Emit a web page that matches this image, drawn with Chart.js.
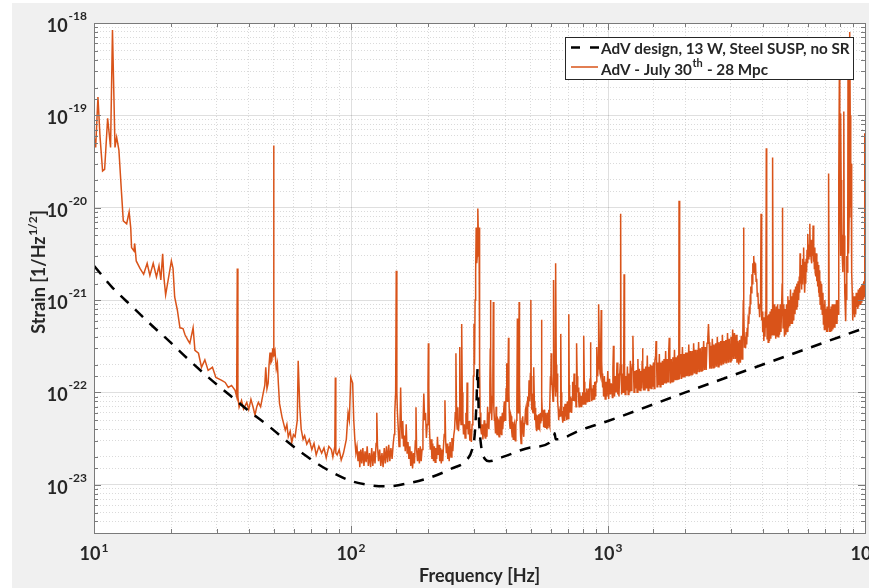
<!DOCTYPE html>
<html>
<head>
<meta charset="utf-8">
<script src="https://cdn.jsdelivr.net/npm/chart.js@4.4.1/dist/chart.umd.min.js"></script>
<style>
html,body{margin:0;padding:0;background:#ffffff;}
#wrap{width:869px;height:588px;position:relative;}
canvas{display:block;}
</style>
</head>
<body>
<div id="wrap"><canvas id="c" width="869" height="588"></canvas></div>
<script>
// ---------- data ----------
const seriesNames = ['AdV design, 13 W, Steel SUSP, no SR', 'AdV - July 30th - 28 Mpc'];
const legendSecondParts = ['AdV - July 30', 'th', ' - 28 Mpc'];
const xTitle = 'Frequency [Hz]';
const yTitleParts = ['Strain [1/Hz', '1/2', ']'];

const xTickValues = [10, 100, 1000, 10000];
const xTickExponents = ['1', '2', '3', '4'];
const yTickValues = [1e-18, 1e-19, 1e-20, 1e-21, 1e-22, 1e-23];
const yTickExponents = ['-18', '-19', '-20', '-21', '-22', '-23'];

// design sensitivity (black dashed): [frequency Hz, strain]
const designCurve = [[10,2.35e-21],[11.7,1.4e-21],[14,8.6e-22],[16.8,5.3e-22],[19.8,3.5e-22],[23.6,2.2e-22],
  [28.3,1.4e-22],[33.8,9.3e-23],[40,6.3e-23],[48.4,4.2e-23],[56.3,2.95e-23],[65.3,2.15e-23],[80,1.48e-23],
  [100,1.1e-23],[121,9.8e-24],[138,9.6e-24],[168,1.04e-23],[204,1.2e-23],[247,1.5e-23],[282,1.85e-23],
  [296,2.4e-23],[303,3.5e-23],[308,8e-23],[311,1.8e-22],[314,6e-23],[320,2.8e-23],[332,1.9e-23],[345,1.8e-23],
  [390,2.0e-23],[507,2.55e-23],[615,3.15e-23],[620,3.6e-23],[626,3.1e-23],[800,4.0e-23],[1000,4.9e-23],
  [2000,1.0e-22],[3000,1.5e-22],[5000,2.5e-22],[7000,3.5e-22],[10000,5e-22]];

// measured sensitivity, July 30th (orange): [frequency Hz, strain], by band
const measured10to100 = [[10.0,6.0e-20],[10.15,4.5e-20],[10.36,1.58e-19],[10.55,6.0e-20],[10.8,2.5e-20],[11.0,2.6e-20],
  [11.3,9.3e-20],[11.6,4.5e-20],[11.8,8.4e-19],[12.07,4.5e-20],[12.25,5.8e-20],[12.5,4.2e-20],[12.8,1.43e-20],
  [13.0,7.2e-21],[13.4,6.7e-21],[13.7,9.0e-21],[13.9,6.0e-21],[14.0,3.7e-21],[14.3,3.4e-21],[14.4,4.1e-21],
  [14.6,2.65e-21],[15.1,2.2e-21],[15.6,1.9e-21],[16.1,2.5e-21],[16.5,1.85e-21],[17.0,2.5e-21],[17.5,1.78e-21],
  [17.9,2.35e-21],[18.2,1.65e-21],[18.5,3.17e-21],[18.7,1.78e-21],[19.0,1.14e-21],[19.6,1.9e-21],[20.0,2.65e-21],
  [20.3,2.2e-21],[20.6,1.08e-21],[21.1,7.8e-22],[21.6,5.0e-22],[22.2,4.9e-22],[22.6,4.2e-22],[23.3,3.6e-22],
  [23.6,3.4e-22],[24.3,5.0e-22],[24.7,2.85e-22],[25.5,2.65e-22],[26.2,1.87e-22],[27.0,2.25e-22],[27.8,1.73e-22],
  [28.9,1.87e-22],[29.8,1.45e-22],[31.4,1.35e-22],[32.4,1.28e-22],[33.3,1.13e-22],[34.3,1.19e-22],[35.4,1.05e-22],
  [35.9,9.0e-23],[36.1,2.2e-21],[36.3,9.0e-23],[36.7,6.9e-23],[37.5,8.2e-23],[38.2,6.6e-23],[39.3,7.8e-23],
  [40.0,6.5e-23],[40.8,8.4e-23],[41.6,6.9e-23],[42.3,5.7e-23],[43.0,7.0e-23],[43.6,7.8e-23],[44.5,7.0e-23],
  [45.5,9.7e-23],[46.2,1.2e-22],[46.6,1.87e-22],[47.1,1.1e-22],[47.6,1.26e-22],[48.0,2.0e-22],[48.4,2.7e-22],
  [48.8,2.1e-22],[49.2,2.2e-22],[49.6,3.0e-22],[49.9,2.5e-22],[50.0,4.7e-20],[50.15,2.6e-22],[50.6,2.85e-22],
  [51.2,1.8e-22],[51.7,2.07e-22],[52.2,1.2e-22],[52.7,7.6e-23],[53.9,5.4e-23],[55.5,3.9e-23],[56.3,4.5e-23],
  [57.0,3.3e-23],[58.0,3.8e-23],[58.8,2.85e-23],[59.7,3.5e-23],[60.6,3.3e-23],[61.8,5.0e-23],[62.3,2.2e-22],
  [63.2,6.9e-23],[64.0,4.0e-23],[65.1,3.1e-23],[66.0,3.4e-23],[67.3,2.75e-23],[68.8,3.1e-23],[70.4,2.4e-23],
  [71.8,2.8e-23],[73.2,2.1e-23],[75.0,2.6e-23],[76.9,2.2e-23],[78.5,2.5e-23],[80.1,1.95e-23],[82.0,2.6e-23],
  [83.9,2.4e-23],[85.0,2.0e-23],[86.5,2.6e-23],[86.9,1.45e-22],[87.3,2.2e-23],[88.3,2.1e-23],[90.0,2.4e-23],
  [91.6,1.85e-23],[93.5,2.2e-23],[95.9,3.1e-23],[97.4,6.0e-23],[98.5,5.0e-23]];

const measured100to320 = [[99.8,1.45e-22],[101.5,1.26e-22],[102.5,5e-23],[103.5,3.1e-23],[104.5,2.2e-23],[105.5,2.6e-23],
  [106.5,1.8e-23],[107.5,2.3e-23],[108.2,1.55e-23],[109.2,2.4e-23],[110.2,1.7e-23],[111.2,2.5e-23],[112.3,1.6e-23],
  [113.4,2.3e-23],[114.5,1.75e-23],[115.6,2.6e-23],[116.8,1.6e-23],[118,2.2e-23],[119.2,1.55e-23],[120.4,2.5e-23],
  [121.6,1.6e-23],[122.8,2.3e-23],[124,1.7e-23],[125.2,2.8e-23],[126,6e-23],[126.8,2.6e-23],[128,1.8e-23],
  [129.3,2.4e-23],[130.6,1.6e-23],[132,2.2e-23],[133.3,1.55e-23],[134.7,2.5e-23],[136,1.7e-23],[137.4,2.6e-23],
  [138.8,1.75e-23],[140.2,2.7e-23],[141.6,1.8e-23],[143,2.5e-23],[144.5,1.9e-23],[146,2.8e-23],[147.2,3.5e-23],
  [148,6e-23],[149.2,1e-22],[150,2.07e-21],[150.8,1e-22],[151.6,6e-23],[152.7,4.1e-23],[153.8,2.6e-23],[155,4e-23],
  [156,1.13e-22],[157,4.5e-23],[158,3.2e-23],[159,4.9e-23],[160.2,2.6e-23],[161.4,3.4e-23],[162.6,2.3e-23],
  [164,4.5e-23],[165.3,2.2e-23],[166.6,2.9e-23],[168,1.9e-23],[169.4,2.6e-23],[170.8,1.6e-23],[172.2,2.3e-23],
  [173.6,1.5e-23],[175,2.2e-23],[176.5,1.7e-23],[178,3e-23],[179,6.9e-23],[180,2.4e-23],[181.5,1.8e-23],
  [183,2.5e-23],[184.5,1.7e-23],[186,2.6e-23],[187.5,1.8e-23],[189,2.4e-23],[190.5,4e-23],[192,9.7e-23],
  [193.5,5e-23],[195,6e-23],[196.5,3.2e-23],[198,4.5e-23],[199.3,1.2e-22],[200,3.4e-22],[200.8,1.1e-22],
  [202,4e-23],[203.5,2.4e-23],[205,3.1e-23],[206.5,1.9e-23],[208,2.8e-23],[209.5,1.8e-23],[211,2.6e-23],
  [212.5,1.75e-23],[214,2.5e-23],[215.5,1.9e-23],[217,3.3e-23],[218.5,2.1e-23],[220,2.7e-23],[221.5,1.8e-23],
  [223,2.5e-23],[224.5,1.7e-23],[226,2.4e-23],[227.5,1.8e-23],[229,2.6e-23],[230.5,3.5e-23],[232,8.2e-23],
  [233.5,3e-23],[235,2.2e-23],[236.5,2.8e-23],[238,1.9e-23],[239.5,2.6e-23],[241,1.8e-23],[243,2.9e-23],
  [245,2e-23],[247,3.2e-23],[249,2.3e-23],[251,3.4e-23],[253,4e-23],[254.5,6e-23],[256,2.65e-22],[257.5,5e-23],
  [259,4e-23],[260.5,6.9e-23],[262,3.8e-23],[263.5,5e-23],[265,3.1e-22],[266.5,6e-23],[268,4.5e-23],
  [269.2,1.2e-22],[270,5.5e-22],[271,1e-22],[272.5,5e-23],[274,3.5e-23],[276,4.5e-23],[278,3.2e-23],[280,6e-23],
  [281.5,4e-23],[283,1.28e-22],[284.5,5e-23],[286,3.5e-23],[288,4.9e-23],[290,3e-23],[292,4e-23],[294,2.9e-23],
  [296,4.5e-23],[298,6e-23],[299.5,1.5e-22],[301,5.5e-22],[302.5,2e-22],[304,1e-21],[305.5,2e-21],[307,6.1e-21],
  [308.5,2.5e-21],[310,3e-21],[311,5e-21],[312,9.8e-21],[313.5,4e-21],[315,6.1e-21],[316.5,2e-22],[318,6e-23],
  [320,4e-23]];

const measured320to960 = [[322,3.5e-23],[324,4.5e-23],[326,3.1e-23],[328,4e-23],[330,5e-23],[331.5,3.4e-23],
  [333,3.2e-23],[334.5,4.6e-23],[336,4.1e-23],[338,3.3e-23],[340,7e-23],[342,4.5e-23],[344,4e-23],[345.5,6e-23],
  [347,1.2e-22],[348.2,3e-22],[349,1e-21],[350,2e-22],[351,8e-23],[352,6e-23],[353.5,5e-23],[355,9e-23],
  [356.5,1.5e-22],[358,9.5e-22],[359,1.6e-22],[360,7e-23],[361.5,5e-23],[363,4.9e-23],[365,3.6e-23],[367,7e-23],
  [368.5,4.2e-23],[370,3.5e-23],[372,5.2e-23],[374,5e-23],[375.5,3.5e-23],[377,3.3e-23],[379,4.8e-23],
  [381,5.5e-23],[383,3.6e-23],[385,3.5e-23],[386.5,5e-23],[388,6e-23],[389.5,4e-23],[391,4.9e-23],[393,6.5e-23],
  [395,8e-23],[396.5,5e-23],[398,5e-23],[400,7e-23],[401.5,1.1e-22],[403,2.07e-22],[404.5,1.1e-22],[406,8e-23],
  [408,1.3e-22],[410,3.9e-22],[411.5,1e-22],[413,6e-23],[414.5,4.5e-23],[416,4.1e-23],[418,5.8e-23],[420,5.5e-23],
  [422,3.8e-23],[424,3.3e-23],[426,4.8e-23],[428,3.1e-23],[430,4.2e-23],[432,4.5e-23],[434,3.2e-23],[436,3e-23],
  [438,4.4e-23],[440,5e-23],[442,8e-23],[444,6.3e-22],[446,1e-22],[448,6e-23],[449.5,1.5e-22],[451,9.5e-22],
  [452.5,1.2e-22],[455,5e-23],[457,3.4e-23],[459,2.8e-23],[461,4.2e-23],[462,3.7e-23],[464,5.2e-23],[466,5.5e-23],
  [468,3.6e-23],[470,3.3e-23],[472.5,4.6e-23],[475,4.9e-23],[477.5,6.5e-23],[480,7e-23],[482,4.8e-23],
  [484,4.5e-23],[486,6.5e-23],[488,9e-23],[490.5,7e-23],[493,1.35e-22],[495,8e-23],[497,8e-23],[499,1.6e-22],
  [501,1e-21],[502.5,1.5e-22],[504,9e-23],[505.5,6.5e-23],[507,9.7e-23],[509,6.2e-23],[511,6e-23],[513,9e-23],
  [515,1.87e-22],[517,8e-23],[519,5e-23],[521,6.8e-23],[523,5.4e-23],[525,4.2e-23],[527,3.8e-23],[529,5.6e-23],
  [531,5.5e-23],[533,4e-23],[535,4e-23],[536.5,5.8e-23],[538,4.9e-23],[540,4.1e-23],[542,4e-23],[544,5.9e-23],
  [546,6e-23],[547.5,4.6e-23],[549,5e-23],[550.5,9e-23],[552,6.1e-22],[553.5,9e-23],[555,6e-23],[557,5.4e-23],
  [559,6.4e-23],[561,4.2e-23],[563,5e-23],[565,6.5e-23],[567,4.8e-23],[569,4.2e-23],[571,5.8e-23],[573,6e-23],
  [575.5,4.4e-23],[578,4e-23],[581,6e-23],[584,4.1e-23],[586,5e-23],[588,6.5e-23],[590,4.6e-23],[592,4.3e-23],
  [594.5,7e-23],[597,1.5e-22],[599,1.2e-22],[601,2.65e-22],[603.5,1.6e-22],[606,1.2e-22],[608.5,1e-22],
  [611,8e-23],[613,2.5e-22],[615,1.65e-21],[617.5,2e-22],[620,1.5e-22],[622,1.2e-22],[624,9e-23],[625.5,4e-22],
  [627,2.5e-21],[629,2e-22],[631,1.3e-22],[632.5,1e-22],[634,1.6e-22],[636,1e-22],[638,8e-23],[640.5,6.4e-23],
  [643,5e-23],[645.5,6.5e-23],[648,5.4e-23],[650,6e-23],[652,7e-23],[654,5.5e-23],[655,1e-22],[656,4.3e-22],
  [657.5,1e-22],[659,6e-23],[661,7.2e-23],[662,6e-23],[664.5,5.2e-23],[667,4.7e-23],[669,6.3e-23],[671,7e-23],
  [673.5,5.5e-23],[676,5e-23],[678.5,6.8e-23],[681,7.5e-23],[683.5,5.5e-23],[686,6.9e-23],[688,5.8e-23],
  [690,5e-23],[692.5,7e-23],[695,8e-23],[697.5,5.8e-23],[700,5.2e-23],[702.5,1e-22],[705,7e-22],[706.5,1.2e-22],
  [708,6e-23],[710,7.8e-23],[712,6.9e-23],[714.5,6.1e-23],[717,9e-23],[719.5,7.4e-23],[722,6e-23],[724.5,8.5e-23],
  [727,1.3e-22],[730,9e-23],[733,8.2e-23],[735.5,1.05e-22],[738,1.6e-22],[740,1.1e-22],[742,1e-22],[744,8e-23],
  [746,1.2e-22],[748.5,9e-23],[751,7e-23],[753.5,1.2e-22],[756,3.4e-22],[758.5,1.5e-22],[761,1.5e-22],
  [764,1e-22],[767,1.13e-22],[769.5,8e-23],[772,7e-23],[775,9.5e-23],[778,1e-22],[781,7.6e-23],[784,7e-23],
  [787,9.2e-23],[790,6.9e-23],[792.5,8e-23],[795,1e-22],[797.5,8.4e-23],[800,7.5e-23],[803,1.2e-22],[806,4.1e-22],
  [808.5,1.3e-22],[811,1e-22],[813.5,8e-23],[816,7.5e-23],[818.5,1e-22],[821,7.6e-23],[824,9e-23],[827,1.1e-22],
  [830,8.2e-23],[833,7.8e-23],[836,1.05e-22],[839,1.1e-22],[842,8.4e-23],[845,8e-23],[847.5,1.15e-22],
  [850,1.2e-22],[852.5,1.4e-22],[855,3.5e-22],[857.5,1.5e-22],[860,1.1e-22],[862.5,9e-23],[865,8e-23],
  [868,1.1e-22],[871,8.2e-23],[874,9e-23],[877,1.2e-22],[880,1e-22],[883,8.5e-23],[886,1.15e-22],[889,1.3e-22],
  [892,1e-22],[895,9e-23],[897.5,1.2e-22],[900,1.3e-22],[903,1.6e-22],[906,3.1e-22],[909,2e-22],[912,1.5e-22],
  [914.5,1.8e-22],[917,2e-22],[919.5,3e-22],[922,9e-22],[925,3e-22],[928,2e-22],[931,1.6e-22],[934,1.5e-22],
  [937.5,2.5e-22],[941,7.8e-22],[944.5,2.2e-22],[948,1.6e-22],[951.5,1.2e-22],[955,1.13e-22],[958,1.4e-22]];

const measured960to3400 = [[961,9e-23],[968,1.5e-22],[975,8.5e-23],[982,1.3e-22],[990,9e-23],[998,1.7e-22],
  [1006,8.5e-23],[1014,1.4e-22],[1022,9.5e-23],[1030,1.25e-22],[1040,8.8e-23],[1045,1.8e-22],[1050,3.2e-22],
  [1055,1.5e-22],[1060,9e-23],[1068,1.5e-22],[1076,1.0e-22],[1084,2.1e-22],[1092,9.5e-23],[1097,1.6e-22],
  [1103,9e-23],[1110,1.5e-22],[1116,2e-22],[1120,8.6e-21],[1124,2e-22],[1130,9.5e-23],[1138,1.6e-22],
  [1146,1.0e-22],[1151,2e-22],[1155,1.9e-21],[1160,1.7e-22],[1166,9.5e-23],[1174,1.5e-22],[1182,1.05e-22],
  [1190,1.9e-22],[1198,9.5e-23],[1206,1.6e-22],[1214,1.0e-22],[1222,2.2e-22],[1230,1.05e-22],[1238,1.7e-22],
  [1245,2e-22],[1250,4.1e-22],[1256,1.8e-22],[1263,1.0e-22],[1271,1.7e-22],[1280,1.1e-22],[1289,1.75e-22],
  [1298,1.0e-22],[1307,2.3e-22],[1316,1.05e-22],[1325,1.8e-22],[1334,1.05e-22],[1343,1.7e-22],[1352,1.1e-22],
  [1358,2.2e-22],[1362,3e-22],[1368,2e-22],[1375,1.05e-22],[1384,1.8e-22],[1393,1.05e-22],[1402,1.9e-22],
  [1412,1.1e-22],[1422,2.5e-22],[1432,1.05e-22],[1442,1.9e-22],[1452,1.1e-22],[1462,2e-22],[1472,1.1e-22],
  [1482,1.95e-22],[1492,1.15e-22],[1502,2.1e-22],[1512,1.1e-22],[1522,2.2e-22],[1532,2.5e-22],[1538,3.6e-22],
  [1545,2.3e-22],[1552,1.15e-22],[1562,2.1e-22],[1573,1.2e-22],[1584,2.6e-22],[1595,1.15e-22],[1606,2.1e-22],
  [1617,1.2e-22],[1628,2.2e-22],[1640,1.2e-22],[1652,2.3e-22],[1664,1.25e-22],[1676,2.8e-22],[1688,1.25e-22],
  [1700,2.3e-22],[1712,1.3e-22],[1722,2.6e-22],[1731,3.9e-22],[1740,2.5e-22],[1750,1.25e-22],[1762,2.3e-22],
  [1775,1.3e-22],[1788,2.4e-22],[1801,1.3e-22],[1814,2.9e-22],[1827,1.35e-22],[1840,2.4e-22],[1853,1.35e-22],
  [1866,2.5e-22],[1878,1.4e-22],[1886,3e-22],[1890,1.19e-20],[1895,3e-22],[1906,1.4e-22],[1920,2.6e-22],
  [1934,1.4e-22],[1948,3.1e-22],[1962,1.45e-22],[1976,2.6e-22],[1990,1.45e-22],[2004,2.7e-22],[2018,1.5e-22],
  [2032,2.7e-22],[2047,1.5e-22],[2062,3.3e-22],[2077,1.5e-22],[2092,2.8e-22],[2107,1.55e-22],[2122,2.8e-22],
  [2138,1.55e-22],[2154,3.4e-22],[2170,1.6e-22],[2186,2.9e-22],[2202,1.6e-22],[2218,2.9e-22],[2235,1.65e-22],
  [2252,3.5e-22],[2269,1.65e-22],[2286,3e-22],[2303,1.7e-22],[2320,3.1e-22],[2338,1.7e-22],[2356,3.6e-22],
  [2374,1.75e-22],[2392,3.1e-22],[2410,1.75e-22],[2428,3.4e-22],[2445,3.8e-22],[2460,5.5e-22],[2475,3.5e-22],
  [2490,1.8e-22],[2508,3.2e-22],[2527,1.8e-22],[2546,3.8e-22],[2565,1.85e-22],[2584,3.3e-22],[2603,1.85e-22],
  [2623,3.4e-22],[2643,1.9e-22],[2663,4e-22],[2683,1.9e-22],[2703,3.5e-22],[2724,1.95e-22],[2745,3.6e-22],
  [2766,1.95e-22],[2787,4.2e-22],[2808,2e-22],[2830,3.6e-22],[2852,2.05e-22],[2874,3.7e-22],[2896,2.05e-22],
  [2918,4.4e-22],[2941,2.1e-22],[2964,3.8e-22],[2987,2.15e-22],[3010,4e-22],[3033,2.2e-22],[3056,4.8e-22],
  [3080,2.3e-22],[3104,4.4e-22],[3128,2.3e-22],[3152,4.2e-22],[3176,2.1e-22],[3200,3.6e-22],[3225,2.0e-22],
  [3250,3.7e-22],[3275,2.1e-22],[3300,4.1e-22],[3325,2.3e-22],[3345,4.2e-22],[3362,1e-21],[3370,6.1e-21],
  [3378,8e-22],[3395,3.1e-22]];

const measured3400to10000 = [[3410,4e-22],[3430,3e-22],[3450,4.5e-22],[3465,3.3e-22],[3480,5e-22],[3495,4e-22],
  [3510,6e-22],[3530,5.5e-22],[3550,8.5e-22],[3565,7e-22],[3580,1.15e-21],[3590,9e-22],[3600,1.4e-21],
  [3615,1.2e-21],[3630,1.9e-21],[3645,1.5e-21],[3660,2.5e-21],[3675,2e-21],[3690,3e-21],[3705,2.2e-21],
  [3720,2.6e-21],[3735,1.9e-21],[3750,2.5e-21],[3770,1.6e-21],[3790,1.7e-21],[3810,1.1e-21],[3830,1.2e-21],
  [3850,8e-22],[3870,9e-22],[3890,6.5e-22],[3910,9e-22],[3925,1.2e-21],[3940,8.6e-21],[3955,1e-21],[3970,6e-22],
  [3985,7.5e-22],[4000,4.5e-22],[4020,6.5e-22],[4040,3.6e-22],[4060,6.5e-22],[4080,4e-22],[4100,7.5e-22],
  [4115,5e-22],[4130,4.4e-20],[4145,7e-22],[4160,3.8e-22],[4180,6.8e-22],[4200,3.5e-22],[4225,7e-22],
  [4250,3.6e-22],[4275,7.5e-22],[4300,3.8e-22],[4325,8e-22],[4350,4.2e-22],[4370,3.5e-20],[4390,6e-22],
  [4410,9e-22],[4430,4.2e-22],[4450,9e-22],[4470,6e-22],[4495,3.8e-22],[4520,8.5e-22],[4545,4e-22],[4570,9e-22],
  [4595,4e-22],[4620,8e-22],[4650,4.2e-22],[4680,9e-22],[4710,4.5e-22],[4740,9e-22],[4760,1.5e-21],[4770,1e-20],
  [4785,1.2e-21],[4800,5e-22],[4830,9e-22],[4860,4e-22],[4890,8e-22],[4920,4.2e-22],[4950,9e-22],[4980,4.6e-22],
  [5010,1.1e-21],[5040,5e-22],[5070,1e-21],[5100,5.2e-22],[5130,1.3e-21],[5160,5.6e-22],[5190,1.1e-21],
  [5220,5.5e-22],[5250,1.2e-21],[5280,6e-22],[5310,1.3e-21],[5340,7e-22],[5370,1.4e-21],[5400,8e-22],
  [5430,1.5e-21],[5460,8.4e-22],[5490,1.6e-21],[5520,1e-21],[5550,1.8e-21],[5570,1.2e-21],[5590,3.2e-21],
  [5610,1.5e-21],[5640,2.4e-21],[5660,1.3e-21],[5680,2.2e-21],[5700,1.5e-21],[5720,2.8e-21],[5745,1.8e-21],
  [5770,3.7e-21],[5790,2e-21],[5810,2.6e-21],[5835,1.2e-21],[5860,2e-21],[5880,1.5e-21],[5900,2.8e-21],
  [5925,2e-21],[5950,3.5e-21],[5975,2.5e-21],[6000,5.2e-21],[6025,2.8e-21],[6050,4e-21],[6075,3e-21],
  [6100,6.7e-21],[6125,3e-21],[6150,4.5e-21],[6170,2.8e-21],[6190,4.4e-21],[6215,2.5e-21],[6240,4.5e-21],
  [6260,3e-21],[6280,6.4e-21],[6305,2.6e-21],[6330,3.8e-21],[6355,2.2e-21],[6380,3.7e-21],[6400,2e-21],
  [6420,3e-21],[6445,1.8e-21],[6470,3.2e-21],[6495,1.6e-21],[6520,2.6e-21],[6545,1.4e-21],[6570,2.4e-21],
  [6595,1.2e-21],[6620,2e-21],[6640,1.1e-21],[6660,2.1e-21],[6690,9e-22],[6720,1.6e-21],[6750,8e-22],
  [6780,1.5e-21],[6820,7e-22],[6860,1.2e-21],[6890,5.5e-22],[6920,9e-22],[6950,4.8e-22],[6980,1e-21],
  [7020,4.8e-22],[7060,8e-22],[7090,4.5e-22],[7120,8.5e-22],[7150,4.5e-22],[7180,7.5e-22],[7205,5e-22],
  [7230,2.35e-20],[7255,7e-22],[7280,4.5e-22],[7310,8e-22],[7345,4.5e-22],[7380,8.5e-22],[7420,4.6e-22],
  [7460,9e-22],[7500,4.8e-22],[7540,8.5e-22],[7570,5e-22],[7600,9e-22],[7635,5e-22],[7670,9e-22],[7700,5.5e-22],
  [7740,1e-21],[7780,5.5e-22],[7820,1e-21],[7860,7e-22],[7890,2e-21],[7920,2e-20],[7950,3.1e-19],[7980,3e-20],
  [8000,1e-20],[8030,3e-21],[8050,1.05e-19],[8075,2e-20],[8100,5e-21],[8125,1e-20],[8150,3.2e-21],[8200,2e-21],
  [8240,5e-21],[8270,1.1e-19],[8300,5e-21],[8330,2e-21],[8355,1.2e-21],[8380,8e-22],[8400,1.2e-21],[8420,5.9e-22],
  [8450,1.5e-21],[8480,1e-21],[8510,3e-21],[8540,2e-21],[8570,1e-20],[8590,3.1e-19],[8605,3e-20],[8620,1e-20],
  [8635,5e-21],[8650,3.2e-21],[8675,8e-21],[8700,2e-20],[8720,1e-19],[8740,8e-19],[8760,1e-19],[8780,5e-20],
  [8800,2e-20],[8820,1e-20],[8835,3e-20],[8850,1.65e-20],[8875,5e-21],[8900,2e-21],[8920,1.2e-21],[8940,8e-22],
  [8960,1.1e-21],[8980,6e-22],[9010,1e-21],[9050,7e-22],[9085,1.1e-21],[9120,6.5e-22],[9160,1.1e-21],[9200,7e-22],
  [9245,1.2e-21],[9290,8.4e-22],[9335,1.2e-21],[9380,8e-22],[9415,1.3e-21],[9450,8.5e-22],[9485,1.3e-21],
  [9520,9e-22],[9555,1.35e-21],[9590,9e-22],[9635,1.4e-21],[9680,9.5e-22],[9720,1.45e-21],[9760,1e-21],
  [9805,1.5e-21],[9850,1.05e-21],[9890,1.6e-21],[9930,1.1e-21],[9960,3e-21],[9980,6.4e-20],[9990,3e-21],
  [10000,1.2e-21]];

// ---------- helpers ----------
const FONT = 'Lato, "Open Sans", "Liberation Sans", sans-serif';
const TXT = '#262626';
function isDecade(v) { const l = Math.log10(v); return Math.abs(l - Math.round(l)) < 1e-6; }
function toPoints(pairs) { return pairs.map(p => ({x: p[0], y: p[1]})); }
const measuredAll = [].concat(measured10to100, measured100to320, measured320to960, measured960to3400, measured3400to10000);

const decor = {
  id: 'decor',
  beforeDraw(chart) {
    const {ctx, chartArea: a, width, height} = chart;
    ctx.save();
    ctx.fillStyle = '#ffffff'; ctx.fillRect(0, 0, width, height);
    ctx.fillStyle = '#f0f0f0'; ctx.fillRect(12, 3, width - 12, height - 3);
    ctx.fillStyle = '#ffffff'; ctx.fillRect(a.left, a.top, a.right - a.left, a.bottom - a.top);
    ctx.restore();
  },
  afterDraw(chart) {
    const {ctx, chartArea: a} = chart;
    const xs = chart.scales.x, ys = chart.scales.y;
    ctx.save();
    ctx.strokeStyle = '#7a7a7a'; ctx.lineWidth = 1;
    ctx.strokeRect(Math.round(a.left) + 0.5, Math.round(a.top) + 0.5, Math.round(a.right - a.left), Math.round(a.bottom - a.top));
    ctx.beginPath();
    xs.ticks.forEach(t => {
      const p = Math.round(xs.getPixelForValue(t.value)) + 0.5;
      if (p < a.left || p > a.right) return;
      const L = isDecade(t.value) ? 7 : 4;
      ctx.moveTo(p, a.bottom); ctx.lineTo(p, a.bottom - L);
      ctx.moveTo(p, a.top); ctx.lineTo(p, a.top + L);
    });
    ys.ticks.forEach(t => {
      const p = Math.round(ys.getPixelForValue(t.value)) + 0.5;
      if (p < a.top || p > a.bottom) return;
      const L = isDecade(t.value) ? 7 : 4;
      ctx.moveTo(a.left, p); ctx.lineTo(a.left + L, p);
      ctx.moveTo(a.right, p); ctx.lineTo(a.right - L, p);
    });
    ctx.stroke();

    const baseFont = 'bold 18px ' + FONT, expFont = 'bold 12px ' + FONT;
    ctx.fillStyle = TXT;
    ctx.textBaseline = 'alphabetic';
    yTickValues.forEach((v, i) => {
      const p = ys.getPixelForValue(v);
      const right = a.left - 7;
      ctx.font = expFont; ctx.textAlign = 'right';
      const ew = ctx.measureText(yTickExponents[i]).width;
      ctx.fillText(yTickExponents[i], right, p - 3);
      ctx.font = baseFont;
      ctx.fillText('10', right - ew - 1, p + 9);
    });
    xTickValues.forEach((v, i) => {
      const p = xs.getPixelForValue(v);
      ctx.font = baseFont; ctx.textAlign = 'left';
      const bw = ctx.measureText('10').width;
      ctx.font = expFont;
      const ew = ctx.measureText(xTickExponents[i]).width;
      const start = p - (bw + ew + 1) / 2;
      ctx.font = baseFont; ctx.fillText('10', start, a.bottom + 27);
      ctx.font = expFont; ctx.fillText(xTickExponents[i], start + bw + 1, a.bottom + 19);
    });

    ctx.font = 'bold 18px ' + FONT; ctx.textAlign = 'center';
    ctx.fillText(xTitle, (a.left + a.right) / 2, a.bottom + 49);

    ctx.save();
    ctx.translate(45, (a.top + a.bottom) / 2 - 6);
    ctx.rotate(-Math.PI / 2);
    ctx.textAlign = 'left';
    ctx.font = 'bold 18px ' + FONT;
    const w0 = ctx.measureText(yTitleParts[0]).width;
    const w2 = ctx.measureText(yTitleParts[2]).width;
    ctx.font = 'bold 12px ' + FONT;
    const w1 = ctx.measureText(yTitleParts[1]).width;
    const sx = -(w0 + w1 + w2 + 1) / 2;
    ctx.font = 'bold 18px ' + FONT; ctx.fillText(yTitleParts[0], sx, 0);
    ctx.font = 'bold 12px ' + FONT; ctx.fillText(yTitleParts[1], sx + w0 + 0.5, -8);
    ctx.font = 'bold 18px ' + FONT; ctx.fillText(yTitleParts[2], sx + w0 + w1 + 1, 0);
    ctx.restore();

    const lx = a.right - 12 - 288, ly = 37, lw = 288, lh = 42;
    ctx.fillStyle = '#ffffff'; ctx.fillRect(lx, ly, lw, lh);
    ctx.strokeStyle = '#262626'; ctx.lineWidth = 1;
    ctx.strokeRect(lx + 0.5, ly + 0.5, lw, lh);
    ctx.strokeStyle = '#000000'; ctx.lineWidth = 2.5; ctx.setLineDash([9, 10]);
    ctx.beginPath(); ctx.moveTo(lx + 6, 47.5); ctx.lineTo(lx + 34, 47.5); ctx.stroke();
    ctx.setLineDash([]);
    ctx.strokeStyle = '#D95319'; ctx.lineWidth = 1.5;
    ctx.beginPath(); ctx.moveTo(lx + 6, 67); ctx.lineTo(lx + 33, 67); ctx.stroke();
    let fs = 20;
    ctx.textAlign = 'left'; ctx.fillStyle = TXT;
    do { ctx.font = 'bold ' + fs + 'px ' + FONT; fs -= 0.25; } while (ctx.measureText(seriesNames[0]).width > 251 && fs > 10);
    const lf = ctx.font;
    ctx.fillText(seriesNames[0], lx + 36, 54);
    ctx.fillText(legendSecondParts[0], lx + 36, 74.5);
    const pw0 = ctx.measureText(legendSecondParts[0]).width;
    ctx.font = 'bold 11px ' + FONT;
    ctx.fillText(legendSecondParts[1], lx + 36 + pw0 + 0.5, 67);
    const pw1 = ctx.measureText(legendSecondParts[1]).width;
    ctx.font = lf;
    ctx.fillText(legendSecondParts[2], lx + 36 + pw0 + pw1 + 1, 74.5);
    ctx.restore();
  }
};

function gridColor(c) {
  if (!c.tick) return 'rgba(0,0,0,0)';
  return isDecade(c.tick.value) ? 'rgba(38,38,38,0.15)' : 'rgba(38,38,38,0.17)';
}
function gridDash(c) {
  if (!c.tick) return [];
  return isDecade(c.tick.value) ? [] : [1, 2];
}

function build() {
  new Chart(document.getElementById('c'), {
    type: 'line',
    data: {
      datasets: [
        {
          label: seriesNames[0],
          data: toPoints(designCurve),
          borderColor: '#000000',
          borderWidth: 2.5,
          borderDash: [11, 9],
          pointRadius: 0,
          cubicInterpolationMode: 'monotone',
          fill: false
        },
        {
          label: seriesNames[1],
          data: toPoints(measuredAll),
          borderColor: '#D95319',
          borderWidth: 1.5,
          pointRadius: 0,
          tension: 0,
          fill: false
        }
      ]
    },
    options: {
      responsive: false,
      animation: false,
      devicePixelRatio: 1,
      layout: {padding: {left: 94, top: 23, right: 4, bottom: 55}},
      plugins: {legend: {display: false}, tooltip: {enabled: false}},
      scales: {
        x: {
          type: 'logarithmic', min: 10, max: 10000,
          ticks: {display: false},
          grid: {color: gridColor, lineWidth: 1, drawTicks: false},
          border: {display: false, dash: gridDash}
        },
        y: {
          type: 'logarithmic', min: 3e-24, max: 1e-18,
          ticks: {display: false},
          grid: {color: gridColor, lineWidth: 1, drawTicks: false},
          border: {display: false, dash: gridDash}
        }
      }
    },
    plugins: [decor]
  });
}
if (document.fonts && document.fonts.load) {
  Promise.all([document.fonts.load('bold 18px Lato'), document.fonts.load('bold 12px Lato')]).then(build, build);
} else { build(); }
</script>
</body>
</html>
